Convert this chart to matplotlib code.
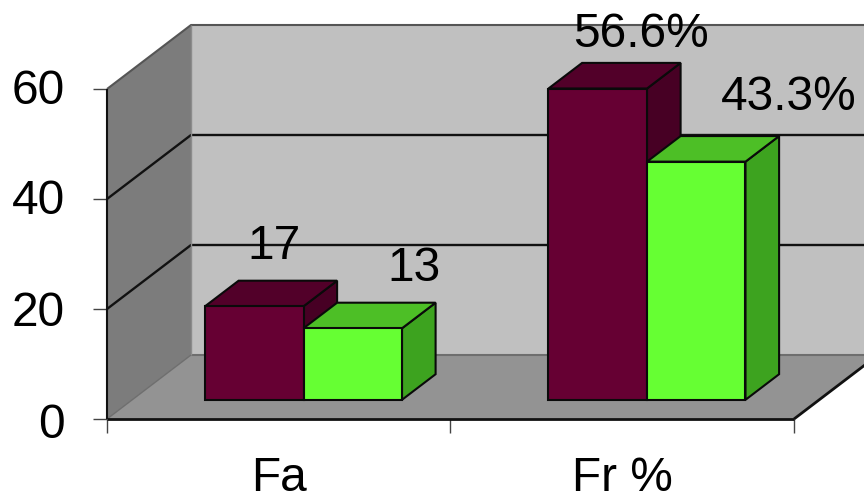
import matplotlib
matplotlib.use("Agg")
import matplotlib.pyplot as plt
from matplotlib.patches import Polygon
from matplotlib.transforms import ScaledTranslation

plt.rcParams['font.family'] = ['Liberation Sans', 'DejaVu Sans']

categories = ["Fa", "Fr %"]
series_a = [17, 56.6]
series_b = [13, 43.3]
labels_a = ["17", "56.6%"]
labels_b = ["13", "43.3%"]
yticks = [0, 20, 40, 60]

W, H = 864, 493
fig = plt.figure(figsize=(W / 100, H / 100), dpi=100)
# front plane of the 3d box, in pixels
ax = fig.add_axes([107 / W, (H - 419) / H, (794 - 107) / W, (419 - 89) / H])
ax.set_xlim(0, len(categories))
ax.set_ylim(0, 60)
ax.patch.set_visible(False)

# oblique depth of the box, in data units
dx = 84 / 343.5
dy = 64 / 5.5
xmax = len(categories)


def poly(pts, fc, ec="none", lw=1.5, z=1):
    ax.add_patch(Polygon(pts, closed=True, facecolor=fc, edgecolor=ec, linewidth=lw,
                         zorder=z, clip_on=False, joinstyle="miter"))


def line(xs, ys, color="#111111", lw=1.5, z=2):
    ax.plot(xs, ys, color=color, lw=lw, zorder=z, clip_on=False, solid_capstyle="butt")


# walls and floor
poly([(dx, dy), (xmax + dx, dy), (xmax + dx, 60 + dy), (dx, 60 + dy)], "#c0c0c0")
poly([(0, 0), (dx, dy), (dx, 60 + dy), (0, 60)], "#7c7c7c")
poly([(0, 0), (xmax, 0), (xmax + dx, dy), (dx, dy)], "#939393")

# gridlines on the walls
for v in yticks[1:3]:
    line([0, dx, xmax + dx], [v, v + dy, v + dy], lw=1.7)
line([0, dx, xmax + dx], [60, 60 + dy, 60 + dy], color="#555555")
line([dx, xmax + dx], [dy, dy], color="#6e6e6e")
line([0, dx], [0, dy], color="#6e6e6e", lw=1)
line([dx, dx], [dy, 60 + dy], color="#8c8c8c", lw=1)
line([xmax, xmax + dx], [0, dy], lw=2)
line([0, xmax], [0, 0], lw=2, z=2)
line([0, 0], [0, 60])

# bars sit a little way into the box
bar_w = 98.5 / 343.5
off_x, off_y = dx * 0.3, dy * 0.3
bar_dx, bar_dy = dx * 0.4, dy * 0.4
first = (205 - 107) / 343.5 - off_x


def bar3d(x, v, front, top, side, z):
    x0 = x + off_x
    x1 = x0 + bar_w
    y0 = off_y
    y1 = off_y + v
    poly([(x1, y0), (x1 + bar_dx, y0 + bar_dy), (x1 + bar_dx, y1 + bar_dy), (x1, y1)], side, "#0a0a0a", 1.5, z)
    poly([(x0, y1), (x1, y1), (x1 + bar_dx, y1 + bar_dy), (x0 + bar_dx, y1 + bar_dy)], top, "#0a0a0a", 1.5, z)
    poly([(x0, y0), (x1, y0), (x1, y1), (x0, y1)], front, "#0a0a0a", 1.5, z + 0.1)
    return (x0 + x1) / 2, y1


label_off_a = [(20, 60), (43, 54)]
label_off_b = [(61, 60), (93, 64)]
for i in range(len(categories)):
    xa = i + first
    xb = xa + bar_w
    ca = bar3d(xa, series_a[i], "#660033", "#520029", "#470024", 3 + 2 * i)
    cb = bar3d(xb, series_b[i], "#66ff33", "#4dbf26", "#3da31f", 4 + 2 * i)
    ax.annotate(labels_a[i], ca, xytext=label_off_a[i], textcoords="offset pixels", fontsize=34.5,
                ha="center", va="center", color="black", zorder=20, annotation_clip=False)
    ax.annotate(labels_b[i], cb, xytext=label_off_b[i], textcoords="offset pixels", fontsize=34.5,
                ha="center", va="center", color="black", zorder=20, annotation_clip=False)

# axes ticks and labels
for s in ax.spines.values():
    s.set_visible(False)
ax.set_yticks(yticks)
ax.set_xticks(range(len(categories) + 1))
ax.set_xticklabels([])
ax.tick_params(axis="y", length=10, width=1, color="#444444", labelsize=34.5, pad=20.5)
ax.tick_params(axis="x", length=10, width=1, color="#444444")
label_shift = [-1, 1, 2, 2]
for lab, sh in zip(ax.get_yticklabels(), label_shift):
    lab.set_transform(lab.get_transform() + ScaledTranslation(0, sh / 100, fig.dpi_scale_trans))
for i, c in enumerate(categories):
    ax.annotate(c, (i + 0.5, 0), xytext=(0, -72), textcoords="offset pixels", fontsize=34.5,
                ha="center", va="baseline", annotation_clip=False)

fig.savefig("out.png", dpi=100)
plt.close()
